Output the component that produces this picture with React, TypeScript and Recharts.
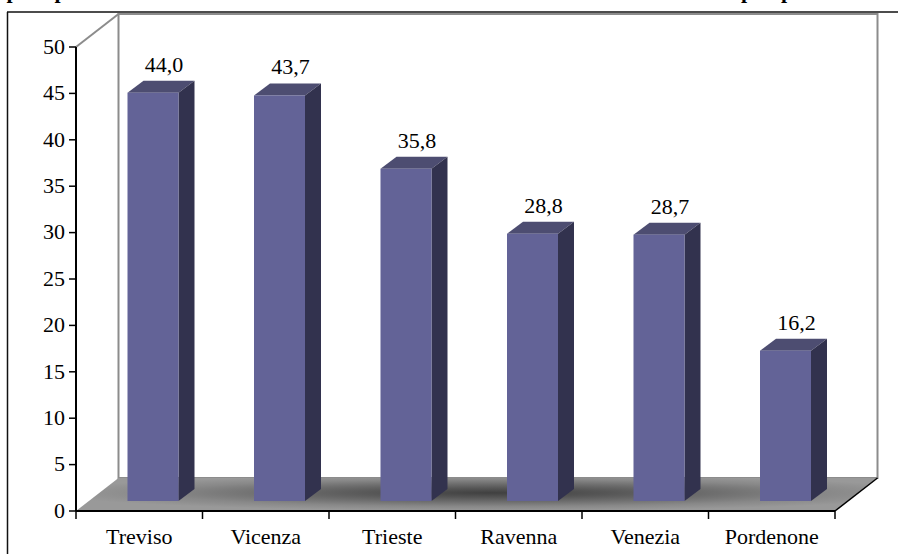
import React from 'react';
import { BarChart, Bar, XAxis, YAxis, LabelList, usePlotArea } from 'recharts';

const cities = ['Treviso', 'Vicenza', 'Trieste', 'Ravenna', 'Venezia', 'Pordenone'];
const values = [44.0, 43.7, 35.8, 28.8, 28.7, 16.2];
const yTicks = [0, 5, 10, 15, 20, 25, 30, 35, 40, 45, 50];

const rows = cities.map((name, i) => ({ name, value: values[i] }));

const FONT = '"Liberation Serif", "Times New Roman", serif';
const FRONT = '#636397';
const TOP = '#4d4d71';
const SIDE = '#32324e';
const WALL = '#8c8c8c';

// 3D look: how far the back wall sits from the axes, and the bars from the front edge
const WALL_DX = 42.5;
const WALL_DY = 33;
const BAR_DX = 13.5;
const BAR_DY = 10;
const DEPTH_X = 16;
const DEPTH_Y = 12;

const Box = (props: any) => {
  const { x, y, width, height } = props;
  const l = x + BAR_DX;
  const r = l + width;
  const t = y - BAR_DY;
  const b = t + height;
  return (
    <g>
      <polygon points={`${l},${t} ${l + DEPTH_X},${t - DEPTH_Y} ${r + DEPTH_X},${t - DEPTH_Y} ${r},${t}`} fill={TOP} />
      <polygon points={`${r},${t} ${r + DEPTH_X},${t - DEPTH_Y} ${r + DEPTH_X},${b - DEPTH_Y} ${r},${b}`} fill={SIDE} />
      <rect x={l} y={t} width={width} height={height} fill={FRONT} />
    </g>
  );
};

const ValueLabel = (props: any) => {
  const { x, y, width, value } = props;
  return (
    <text
      x={x + width / 2 + BAR_DX + 11}
      y={y - BAR_DY - 21}
      textAnchor="middle"
      fontSize={22}
      fontFamily={FONT}
      fill="#000"
    >
      {Number(value).toFixed(1).replace('.', ',')}
    </text>
  );
};

const Room = () => {
  const p = usePlotArea();
  if (!p) return null;
  const { x, y, width, height } = p;
  const bottom = y + height;
  const right = x + width;
  const band = width / cities.length;
  return (
    <g>
      <defs>
        <radialGradient id="floorShade" cx="52%" cy="45%" r="55%">
          <stop offset="0%" stopColor="#404040" />
          <stop offset="25%" stopColor="#555555" />
          <stop offset="50%" stopColor="#6e6e6e" />
          <stop offset="75%" stopColor="#888888" />
          <stop offset="100%" stopColor="#999999" />
        </radialGradient>
      </defs>
      <rect x={x + WALL_DX} y={y - WALL_DY} width={width} height={height} fill="#fff" stroke={WALL} strokeWidth={2} />
      <line x1={x} y1={y} x2={x + WALL_DX} y2={y - WALL_DY} stroke={WALL} strokeWidth={2} />
      <polygon
        points={`${x},${bottom} ${x + WALL_DX},${bottom - WALL_DY} ${right + WALL_DX},${bottom - WALL_DY} ${right},${bottom}`}
        fill="url(#floorShade)"
      />
      <line x1={right} y1={bottom} x2={right + WALL_DX} y2={bottom - WALL_DY} stroke="#000" strokeWidth={1.5} />
      {/* x ticks sit between the categories */}
      {[0, 1, 2, 3, 4, 5, 6].map((i) => (
        <line key={i} x1={x + band * i} y1={bottom} x2={x + band * i} y2={bottom + 8} stroke="#000" strokeWidth={1.5} />
      ))}
    </g>
  );
};

const App = () => (
  <div style={{ position: 'absolute', left: 0, top: 0, width: 898, height: 554, background: '#fff', overflow: 'hidden' }}>
    <BarChart
      width={898}
      height={554}
      data={rows}
      margin={{ top: 47, right: 63, bottom: 0, left: 0 }}
      style={{ position: 'absolute', left: 0, top: 0 }}
    >
      {/* frame and the cut-off title line above it */}
      <line x1={7.5} y1={12} x2={7.5} y2={554} stroke="#111" strokeWidth={1.5} />
      <line x1={7} y1={12} x2={898} y2={12} stroke="#111" strokeWidth={1.5} />
      <g fontFamily={FONT} fontWeight="bold" fontSize={22} fill="#000">
        <text x={6.5} y={-2}>p</text>
        <text x={54.5} y={-2}>p</text>
        <text x={741} y={-2}>p</text>
        <text x={781} y={-2}>p</text>
      </g>
      <Room />
      <XAxis
        dataKey="name"
        height={43}
        tick={{ fontSize: 22, fill: '#000', fontFamily: FONT }}
        tickLine={false}
        tickMargin={11}
        axisLine={{ stroke: '#000', strokeWidth: 2 }}
        interval={0}
      />
      <YAxis
        width={76}
        domain={[0, 50]}
        ticks={yTicks}
        tick={{ fontSize: 22, fill: '#000', fontFamily: FONT, dy: -1 }}
        tickLine={{ stroke: '#000', strokeWidth: 1.5 }}
        tickSize={7}
        tickMargin={4}
        axisLine={{ stroke: '#000', strokeWidth: 2 }}
        interval={0}
      />
      <Bar dataKey="value" barSize={51} shape={<Box />} isAnimationActive={false}>
        <LabelList dataKey="value" content={<ValueLabel />} />
      </Bar>
    </BarChart>
  </div>
);

export default App;
